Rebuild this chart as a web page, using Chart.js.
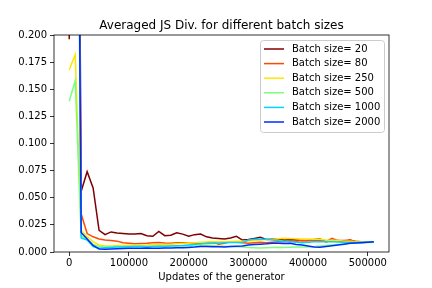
<!DOCTYPE html>
<html>
<head>
<meta charset="utf-8">
<script src="https://cdn.jsdelivr.net/npm/chart.js@4/dist/chart.umd.min.js"></script>
<style>
html,body{margin:0;padding:0;background:#fff;}
#wrap{width:432px;height:288px;position:relative;}
</style>
</head>
<body>
<div id="wrap"><canvas id="c" width="432" height="288"></canvas></div>
<script>
const updates = [0,10000,20000,30000,40000,50000,60000,70000,80000,90000,
 100000,110000,120000,130000,140000,150000,160000,170000,180000,190000,
 200000,210000,220000,230000,240000,250000,260000,270000,280000,290000,
 300000,310000,320000,330000,340000,350000,360000,370000,380000,390000,
 400000,410000,420000,430000,440000,450000,460000,470000,480000,490000,
 500000,510000];

const batchLabels = ["Batch size= 20","Batch size= 80","Batch size= 250","Batch size= 500","Batch size= 1000","Batch size= 2000"];
const chartTitle = 'Averaged JS Div. for different batch sizes';

const js20 = [0.196,0.9,0.056,0.074,0.059,0.020,0.016,0.0185,0.0175,0.017,
 0.0165,0.0165,0.017,0.015,0.0145,0.019,0.015,0.0155,0.0178,0.0165,
 0.0145,0.016,0.0165,0.014,0.013,0.0125,0.012,0.013,0.0145,0.011,
 0.0115,0.0125,0.0135,0.0115,0.012,0.012,0.011,0.0115,0.011,0.0105,
 0.0105,0.0115,0.012,0.0095,0.0105,0.0105,0.0095,0.011,0.0095,0.009,
 0.009,0.009];
const js80 = [0.45,0.8,0.035,0.017,0.014,0.012,0.011,0.0105,0.010,0.0085,
 0.008,0.0075,0.0078,0.008,0.0085,0.0088,0.0082,0.008,0.0085,0.0086,
 0.008,0.0082,0.0075,0.0085,0.0095,0.0072,0.008,0.0095,0.009,0.0085,
 0.008,0.0085,0.009,0.0086,0.009,0.0095,0.0095,0.0104,0.010,0.0105,
 0.0104,0.0105,0.011,0.0095,0.0126,0.0105,0.0105,0.011,0.0098,0.0095,
 0.0093,0.0092];
const js250 = [0.168,0.182,0.02,0.014,0.0095,0.0065,0.0055,0.0055,0.006,0.006,
 0.0062,0.0065,0.0063,0.0065,0.007,0.0068,0.007,0.0072,0.0075,0.0078,
 0.008,0.0085,0.009,0.0092,0.0095,0.0095,0.0095,0.0096,0.0098,0.01,
 0.0102,0.0105,0.011,0.0115,0.0118,0.0122,0.0126,0.0125,0.0122,0.012,
 0.012,0.0118,0.0118,0.011,0.0105,0.0108,0.01,0.0098,0.0095,0.0092,
 0.009,0.0088];
const js500 = [0.139,0.158,0.015,0.012,0.007,0.005,0.0045,0.0048,0.005,0.005,
 0.0052,0.0055,0.0055,0.0053,0.0055,0.0055,0.0057,0.0055,0.0056,0.0058,
 0.0055,0.0055,0.0058,0.006,0.0058,0.0055,0.0052,0.005,0.0048,0.0045,
 0.0042,0.004,0.0038,0.004,0.0042,0.0043,0.0042,0.0043,0.0045,0.0045,
 0.0047,0.005,0.0055,0.006,0.0065,0.007,0.0074,0.0078,0.0082,0.0086,
 0.0088,0.009];
const js1000 = [0.40,0.7,0.013,0.011,0.005,0.0035,0.004,0.0042,0.0045,0.0045,
 0.0048,0.005,0.005,0.0048,0.005,0.0052,0.005,0.0055,0.0058,0.006,
 0.0065,0.007,0.0075,0.0078,0.008,0.0082,0.0085,0.0088,0.0088,0.0088,
 0.011,0.0117,0.0117,0.0117,0.011,0.0104,0.0098,0.0095,0.009,0.0086,
 0.009,0.0095,0.0095,0.0095,0.0095,0.0092,0.009,0.0088,0.0088,0.009,
 0.009,0.0092];
const js2000 = [0.42,0.75,0.018,0.012,0.006,0.0028,0.0025,0.0028,0.003,0.0032,
 0.0035,0.0035,0.0035,0.0036,0.0035,0.0035,0.0036,0.0037,0.004,0.004,
 0.0042,0.0045,0.005,0.005,0.0048,0.0048,0.0047,0.005,0.0052,0.0055,
 0.0065,0.007,0.0072,0.0075,0.008,0.008,0.0078,0.008,0.007,0.0065,
 0.0055,0.0046,0.0043,0.005,0.0058,0.0065,0.0072,0.008,0.0083,0.0086,
 0.009,0.0095];

const xTicks = [0,100000,200000,300000,400000,500000];
const yTicks = [0,0.025,0.05,0.075,0.1,0.125,0.15,0.175,0.2];

const seriesValues = [js20, js80, js250, js500, js1000, js2000];
const seriesColors = ["#800000","#ff4900","#ffe600","#7bff7b","#00d4ff","#002bff"];

const FONT = "'DejaVu Sans', sans-serif";

const datasets = seriesValues.map((vals, i) => ({
  label: batchLabels[i],
  data: vals.map((v, j) => ({x: updates[j], y: v})),
  borderColor: seriesColors[i],
  backgroundColor: seriesColors[i],
  borderWidth: 1.5,
  pointRadius: 0,
  tension: 0,
  fill: false,
  clip: 0,
  order: seriesValues.length - i
}));

const framePlugin = {
  id: 'frame',
  afterDraw(chart) {
    const ctx = chart.ctx, a = chart.chartArea;
    ctx.save();
    ctx.strokeStyle = '#000';
    ctx.lineWidth = 0.8;
    ctx.strokeRect(a.left, a.top, a.right - a.left, a.bottom - a.top);
    // title centred over the plot area
    ctx.fillStyle = '#000';
    ctx.font = "12px " + FONT;
    ctx.textAlign = 'center';
    ctx.textBaseline = 'alphabetic';
    ctx.fillText(chartTitle, (a.left + a.right) / 2, 28.5);
    // legend
    const bx = 260.5, by = 40.5, bw = 124, bh = 92, r = 3;
    ctx.beginPath();
    ctx.moveTo(bx + r, by);
    ctx.lineTo(bx + bw - r, by);
    ctx.arcTo(bx + bw, by, bx + bw, by + r, r);
    ctx.lineTo(bx + bw, by + bh - r);
    ctx.arcTo(bx + bw, by + bh, bx + bw - r, by + bh, r);
    ctx.lineTo(bx + r, by + bh);
    ctx.arcTo(bx, by + bh, bx, by + bh - r, r);
    ctx.lineTo(bx, by + r);
    ctx.arcTo(bx, by, bx + r, by, r);
    ctx.closePath();
    ctx.fillStyle = 'rgba(255,255,255,0.8)';
    ctx.fill();
    ctx.strokeStyle = '#cccccc';
    ctx.lineWidth = 1;
    ctx.stroke();
    ctx.font = "10px " + FONT;
    ctx.textBaseline = 'middle';
    ctx.textAlign = 'left';
    chart.data.datasets.forEach((ds, k) => {
      const y = 49 + k * 14.6;
      ctx.strokeStyle = ds.borderColor;
      ctx.lineWidth = 1.5;
      ctx.beginPath();
      ctx.moveTo(264, y);
      ctx.lineTo(284, y);
      ctx.stroke();
      ctx.fillStyle = '#000';
      ctx.fillText(ds.label, 292, y);
    });
    ctx.restore();
  }
};

new Chart(document.getElementById('c'), {
  type: 'line',
  data: { datasets },
  plugins: [framePlugin],
  options: {
    responsive: false,
    animation: false,
    devicePixelRatio: 1,
    layout: { padding: { left: 0, right: 43, top: 35, bottom: 0 } },
    plugins: {
      legend: { display: false },
      tooltip: { enabled: false },
      title: { display: false }
    },
    scales: {
      x: {
        type: 'linear',
        min: -25500,
        max: 535500,
        afterBuildTicks(scale) { scale.ticks = xTicks.map(v => ({ value: v })); },
        afterFit(scale) { scale.height = 36; },
        ticks: {
          color: '#000',
          font: { family: FONT, size: 10 },
          padding: 1.5,
          maxRotation: 0,
          autoSkip: false,
          callback: v => String(v)
        },
        grid: { drawOnChartArea: false, color: '#000', tickLength: 4, tickWidth: 0.8 },
        border: { display: false },
        title: {
          display: true,
          text: 'Updates of the generator',
          color: '#000',
          font: { family: FONT, size: 10, lineHeight: 1.2 },
          padding: { top: 0, bottom: 5 }
        }
      },
      y: {
        type: 'linear',
        min: 0,
        max: 0.2,
        afterBuildTicks(scale) { scale.ticks = yTicks.map(v => ({ value: v })); },
        afterFit(scale) { scale.width = 54; },
        ticks: {
          color: '#000',
          font: { family: FONT, size: 10 },
          padding: 3,
          autoSkip: false,
          callback: v => Number(v).toFixed(3)
        },
        grid: { drawOnChartArea: false, color: '#000', tickLength: 4, tickWidth: 0.8 },
        border: { display: false }
      }
    }
  }
});
</script>
</body>
</html>
